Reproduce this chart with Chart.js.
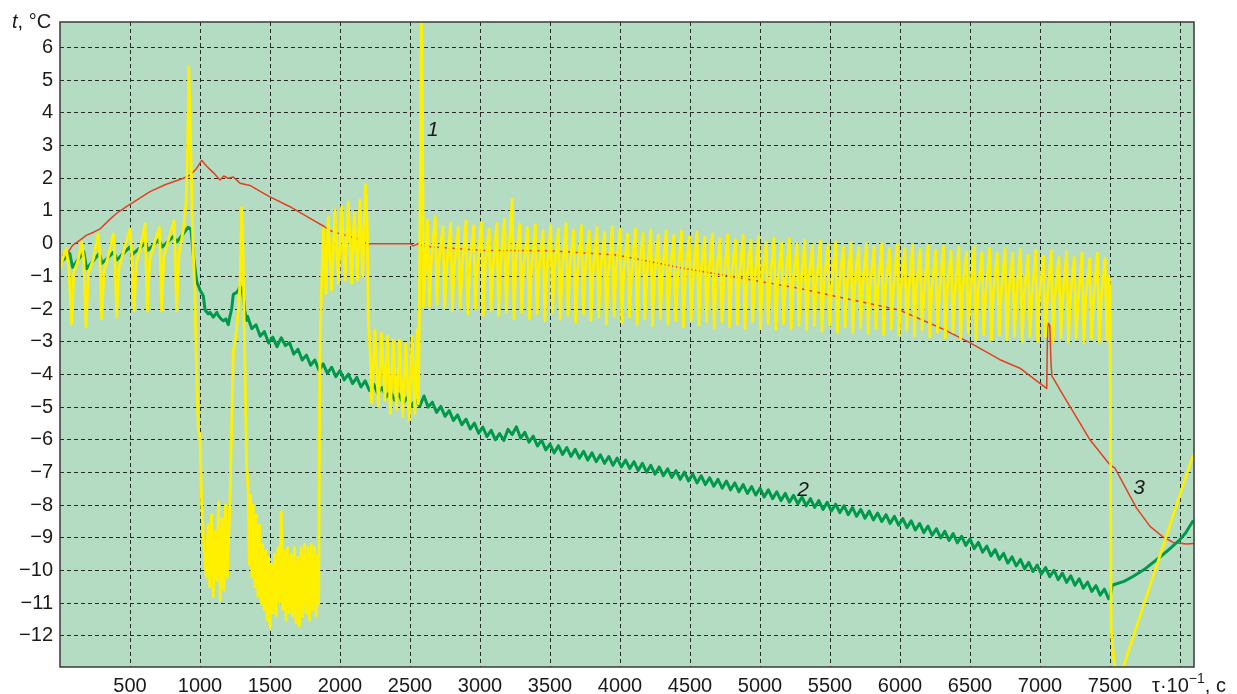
<!DOCTYPE html>
<html><head><meta charset="utf-8">
<script src="https://cdn.jsdelivr.net/npm/chart.js@4.4.1/dist/chart.umd.min.js"></script>
<style>html,body{margin:0;padding:0;background:#fff;}#wrap{width:1237px;height:694px;position:relative;}</style>
</head><body><div id="wrap"><canvas id="c" width="1237" height="694"></canvas></div>
<script>
// ---- tick values / labels ----
const xTicks = [500,1000,1500,2000,2500,3000,3500,4000,4500,5000,5500,6000,6500,7000,7500,8000];
const xTickLabels = ['500','1000','1500','2000','2500','3000','3500','4000','4500','5000','5500','6000','6500','7000','7500',''];
const yTicks = [-12,-11,-10,-9,-8,-7,-6,-5,-4,-3,-2,-1,0,1,2,3,4,5,6];
const yTickLabels = ['−12','−11','−10','−9','−8','−7','−6','−5','−4','−3','−2','−1','0','1','2','3','4','5','6'];
const seriesNames = ['1','2','3'];

// ---- curve 1 (yellow), flat [x, y, x, y, ...] ----
const yellowA = [0,-0.8, 20,-0.45, 45,-0.15, 62,-0.7, 83,-2.45, 98,-0.9, 130,-0.5, 155,0.05, 170,-0.5, 186,-2.55, 203,-0.9, 240,-0.45, 272,0.3, 285,-0.4, 298,-2.3, 314,-0.85, 350,-0.3, 380,0.3, 392,-0.4, 405,-2.25, 421,-0.75, 460,-0.15, 500,0.45, 512,-0.3, 529,-2.05, 545,-0.6, 580,0.0, 607,0.6, 613,-0.3, 624,-2.05, 640,-0.5, 680,0.1, 710,0.5, 716,-0.3, 726,-2.05, 742,-0.4, 780,0.2, 815,0.7, 822,-0.2, 833,-2.05, 850,-0.3, 880,0.4, 900,1.2, 912,3.0, 920,5.4, 928,4.0, 936,2.5, 944,0.8, 952,-0.3, 964,-1.5, 976,-4.0, 988,-5.7, 1000,-5.9, 1012,-8.0, 1030,-9.4];
const yellowB = [1045,-10.2, 1058,-8.6, 1070,-10.5, 1082,-8.3, 1095,-10.8, 1108,-8.8, 1120,-10.3, 1132,-7.9, 1145,-10.9, 1158,-8.4, 1170,-10.6, 1182,-8.0, 1195,-10.2, 1205,-9.0, 1214,-7.9, 1226,-5.5, 1238,-3.3, 1255,-2.9, 1274,-2.0, 1286,-1.2, 1298,1.1, 1305,0.3, 1312,-1.5, 1322,-4.0, 1333,-6.8, 1345,-7.6, 1352,-9.8, 1360,-7.7, 1370,-10.2, 1380,-8.0, 1392,-10.5, 1402,-8.3, 1414,-10.8, 1425,-8.6, 1436,-11.0, 1447,-9.2, 1458,-11.2, 1469,-9.4, 1480,-11.5, 1490,-9.6, 1500,-11.75, 1510,-9.8, 1522,-11.3, 1533,-9.5, 1545,-11.4, 1556,-9.3, 1568,-11.0, 1580,-8.2, 1592,-11.2, 1603,-9.4, 1615,-11.5, 1626,-9.3, 1638,-11.3, 1650,-9.5, 1662,-11.4, 1674,-9.3, 1686,-11.6, 1698,-9.6, 1710,-11.7, 1722,-9.3, 1734,-11.4, 1746,-9.2, 1758,-11.3, 1770,-9.3, 1782,-11.5, 1794,-9.2, 1806,-11.2, 1818,-9.3, 1830,-11.4, 1840,-9.5, 1848,-11.0];
const yellowC = [1855,-4.0, 1860,-2.6, 1869,-1.2, 1881,0.47, 1900,-1.52, 1916,0.82, 1940,-1.42, 1964,1.03, 1988,-1.21, 2012,1.13, 2036,-1.11, 2059,1.28, 2083,-1.21, 2102,0.93, 2124,-1.11, 2143,1.33, 2162,-1.01, 2183,1.8, 2195,0.5, 2202,-2.33, 2214,-3.15, 2226,-4.88, 2250,-2.64, 2274,-4.98, 2297,-2.74, 2321,-4.78, 2338,-2.84, 2360,-5.19, 2380,-2.95, 2404,-5.08, 2425,-2.95, 2448,-5.29, 2470,-3.05, 2494,-5.38, 2515,-2.84, 2535,-5.19, 2552,-2.64, 2560,-4.9, 2566,-2.64, 2575,3.0, 2582,7.2, 2590,3.0, 2597,-1.93, 2610,-0.7];
const yellowD = [2625,0.72, 2638,-1.92, 2652,-0.55, 2680,0.82, 2693,-1.85, 2707,-0.5, 2735,0.52, 2748,-1.95, 2762,-0.7, 2790,0.62, 2803,-2.05, 2817,-0.65, 2845,0.50, 2858,-1.98, 2872,-0.75, 2900,0.70, 2913,-2.15, 2927,-0.6, 2955,0.55, 2968,-2.0, 2982,-0.7, 3010,0.65, 3023,-2.2, 3037,-0.6, 3065,0.45, 3078,-2.05, 3092,-0.8, 3120,0.62, 3133,-2.2, 3147,-0.65, 3175,0.75, 3188,-2.1, 3202,-0.55, 3230,1.35, 3243,-2.3, 3257,-0.5, 3285,0.6, 3298,-2.1, 3312,-0.7, 3340,0.48, 3353,-2.3, 3367,-0.8, 3395,0.58, 3408,-2.15, 3422,-0.75, 3450,0.40, 3463,-2.35, 3477,-0.85, 3505,0.55, 3518,-2.1, 3532,-0.75, 3560,0.45, 3573,-2.3, 3587,-0.85, 3615,0.62, 3628,-2.2, 3642,-0.7, 3670,0.42, 3683,-2.4, 3697,-0.85, 3725,0.55, 3738,-2.15, 3752,-0.75, 3780,0.38, 3793,-2.35, 3807,-0.9, 3835,0.50, 3848,-2.25, 3862,-0.8, 3890,0.35, 3903,-2.45, 3917,-0.95, 3945,0.52, 3958,-2.2, 3972,-0.8, 4000,0.45, 4013,-2.4, 4027,-0.85, 4055,0.30, 4068,-2.25, 4082,-0.95, 4110,0.45, 4123,-2.45, 4137,-0.85, 4165,0.32, 4178,-2.3, 4192,-0.95, 4220,0.42, 4233,-2.5, 4247,-0.9, 4275,0.28, 4288,-2.3, 4302,-1.0, 4330,0.40, 4343,-2.45, 4357,-0.9, 4385,0.25, 4398,-2.35, 4412,-1.0, 4440,0.38, 4453,-2.55, 4467,-0.95, 4495,0.22, 4508,-2.35, 4522,-1.05, 4550,0.35, 4563,-2.5, 4577,-0.95, 4605,0.20, 4618,-2.4, 4632,-1.05, 4660,0.30, 4673,-2.6, 4687,-1.0, 4715,0.15, 4728,-2.4, 4742,-1.1, 4770,0.28, 4783,-2.55, 4797,-1.0, 4825,0.12, 4838,-2.45, 4852,-1.1, 4880,0.25, 4893,-2.6, 4907,-1.05, 4935,0.10, 4948,-2.4, 4962,-1.15, 4990,0.22, 5003,-2.6, 5017,-1.05, 5045,0.05, 5058,-2.45, 5072,-1.2, 5100,0.18, 5113,-2.62, 5127,-1.1, 5155,0.02, 5168,-2.45, 5182,-1.2, 5210,0.15, 5223,-2.6, 5237,-1.15, 5265,0.0, 5278,-2.5, 5292,-1.25, 5320,0.10, 5333,-2.65, 5347,-1.15, 5375,-0.05, 5388,-2.5, 5402,-1.3, 5430,0.08, 5443,-2.68, 5457,-1.2, 5485,-0.05, 5498,-2.5, 5512,-1.3, 5540,0.05, 5553,-2.7, 5567,-1.25, 5595,-0.10, 5608,-2.55, 5622,-1.35, 5650,0.02, 5663,-2.72, 5677,-1.25, 5705,-0.12, 5718,-2.58, 5732,-1.4, 5760,0.0, 5773,-2.75, 5787,-1.3, 5815,-0.10, 5828,-2.6, 5842,-1.4, 5870,0.0, 5883,-2.78, 5897,-1.3, 5925,-0.15, 5938,-2.6, 5952,-1.45, 5980,-0.02, 5993,-2.8, 6007,-1.35, 6035,-0.15, 6048,-2.65, 6062,-1.45, 6090,-0.05, 6103,-2.82, 6117,-1.35, 6145,-0.18, 6158,-2.65, 6172,-1.5, 6200,-0.05, 6213,-2.85, 6227,-1.4, 6255,-0.20, 6268,-2.7, 6282,-1.5, 6310,-0.08, 6323,-2.88, 6337,-1.4, 6365,-0.22, 6378,-2.7, 6392,-1.55, 6420,-0.10, 6433,-2.9, 6447,-1.45, 6475,-0.25, 6488,-2.75, 6502,-1.55, 6530,-0.10, 6543,-2.92, 6557,-1.45, 6585,-0.28, 6598,-2.78, 6612,-1.6, 6640,-0.15, 6653,-2.95, 6667,-1.5, 6695,-0.30, 6708,-2.8, 6722,-1.6, 6750,-0.15, 6763,-2.95, 6777,-1.5, 6805,-0.30, 6818,-2.82, 6832,-1.65, 6860,-0.18, 6873,-2.98, 6887,-1.55, 6915,-0.35, 6928,-2.85, 6942,-1.65, 6970,-0.20, 6983,-2.98, 6997,-1.55, 7025,-0.38, 7038,-2.85, 7052,-1.7, 7080,-0.22, 7093,-3.0, 7107,-1.6, 7135,-0.40, 7148,-2.88, 7162,-1.7, 7190,-0.25, 7203,-3.0, 7217,-1.6, 7245,-0.42, 7258,-2.9, 7272,-1.75, 7300,-0.28, 7313,-3.02, 7327,-1.65, 7355,-0.45, 7368,-2.9, 7382,-1.75, 7410,-0.30, 7423,-3.0, 7437,-1.65, 7465,-0.45, 7478,-2.95, 7492,-1.0];
const yellowE = [7500,-1.5, 7508,-11.8, 7540,-13.3, 7568,-13.3, 8090,-6.5];

// ---- curve 2 (green) ----
const greenA = [0,-0.6, 70,-0.3, 90,-0.72, 170,-0.25, 190,-0.77, 280,-0.3, 300,-0.6, 385,-0.25, 405,-0.5, 500,-0.1, 520,-0.32, 610,0.02, 630,-0.2, 705,0.12, 730,-0.1, 810,0.22, 835,0.05, 915,0.5, 935,0.45, 955,-0.45, 976,-1.15, 1000,-1.42, 1024,-1.6, 1036,-2.03, 1060,-2.15, 1071,-2.1, 1095,-2.25, 1120,-2.1, 1131,-2.2, 1150,-2.3, 1167,-2.36, 1185,-2.3, 1202,-2.48, 1215,-2.2, 1226,-2.0, 1238,-1.55, 1260,-1.5, 1274,-1.42, 1286,-1.32, 1300,-1.35, 1310,-1.65, 1320,-2.05, 1333,-2.35];
const greenB = [1340,-2.23, 1370,-2.60, 1400,-2.48, 1430,-2.83, 1460,-2.69, 1490,-3.04, 1520,-2.86, 1550,-3.15, 1580,-2.88, 1610,-3.12, 1640,-3.03, 1670,-3.38, 1700,-3.23, 1730,-3.56, 1760,-3.41, 1790,-3.72, 1820,-3.56, 1850,-3.87, 1880,-3.68, 1910,-3.97, 1940,-3.78, 1970,-4.07, 2000,-3.88, 2030,-4.17, 2060,-3.99, 2090,-4.28, 2120,-4.09, 2150,-4.38, 2180,-4.20, 2210,-4.49, 2240,-4.30, 2270,-4.59, 2300,-4.40, 2330,-4.69, 2360,-4.50, 2390,-4.79, 2420,-4.60, 2450,-4.89, 2480,-4.70, 2510,-4.98, 2540,-4.76, 2570,-4.97, 2600,-4.66, 2630,-5.00, 2660,-4.85, 2690,-5.16, 2720,-4.98, 2750,-5.28, 2780,-5.11, 2810,-5.41, 2840,-5.24, 2870,-5.54, 2900,-5.37, 2930,-5.67, 2960,-5.49, 2990,-5.80, 3020,-5.61, 3050,-5.90, 3080,-5.71, 3110,-6.00, 3140,-5.81, 3170,-6.02, 3200,-5.68, 3230,-5.84, 3260,-5.60, 3290,-5.95, 3320,-5.77, 3350,-6.07, 3380,-5.89, 3410,-6.19, 3440,-6.01, 3470,-6.31, 3500,-6.13, 3530,-6.40, 3560,-6.18, 3590,-6.45, 3620,-6.24, 3650,-6.51, 3680,-6.29, 3710,-6.56, 3740,-6.35, 3770,-6.62, 3800,-6.40, 3830,-6.67, 3860,-6.46, 3890,-6.72, 3920,-6.51, 3950,-6.78, 3980,-6.56, 4010,-6.83, 4040,-6.62, 4070,-6.88, 4100,-6.67, 4130,-6.94, 4160,-6.72, 4190,-6.99, 4220,-6.78, 4250,-7.05, 4280,-6.83, 4310,-7.10, 4340,-6.89, 4370,-7.15, 4400,-6.94, 4430,-7.21, 4460,-6.99, 4490,-7.26, 4520,-7.05, 4550,-7.32, 4580,-7.10, 4610,-7.37, 4640,-7.16, 4670,-7.42, 4700,-7.21, 4730,-7.48, 4760,-7.26, 4790,-7.53, 4820,-7.32, 4850,-7.59, 4880,-7.37, 4910,-7.64, 4940,-7.43, 4970,-7.69, 5000,-7.48, 5030,-7.75, 5060,-7.53, 5090,-7.80, 5120,-7.59, 5150,-7.86, 5180,-7.64, 5210,-7.91, 5240,-7.70, 5270,-7.96, 5300,-7.75, 5330,-8.02, 5360,-7.80, 5390,-8.07, 5420,-7.86, 5450,-8.13, 5480,-7.91, 5510,-8.18, 5540,-7.97, 5570,-8.23, 5600,-8.02, 5630,-8.29, 5660,-8.07, 5690,-8.34, 5720,-8.13, 5750,-8.40, 5780,-8.18, 5810,-8.45, 5840,-8.24, 5870,-8.50, 5900,-8.29, 5930,-8.56, 5960,-8.34, 5990,-8.61, 6020,-8.41, 6050,-8.69, 6080,-8.48, 6110,-8.76, 6140,-8.56, 6170,-8.84, 6200,-8.64, 6230,-8.92, 6260,-8.72, 6290,-9.00, 6320,-8.80, 6350,-9.08, 6380,-8.87, 6410,-9.15, 6440,-8.95, 6470,-9.23, 6500,-9.03, 6530,-9.33, 6560,-9.14, 6590,-9.44, 6620,-9.25, 6650,-9.55, 6680,-9.36, 6710,-9.66, 6740,-9.47, 6770,-9.77, 6800,-9.58, 6830,-9.86, 6860,-9.66, 6890,-9.95, 6920,-9.75, 6950,-10.03, 6980,-9.83, 7010,-10.11, 7040,-9.91, 7070,-10.19, 7100,-9.99, 7130,-10.28, 7160,-10.08, 7190,-10.36, 7220,-10.16, 7250,-10.45, 7280,-10.25, 7310,-10.54, 7340,-10.35, 7370,-10.64, 7400,-10.46, 7430,-10.75, 7460,-10.57, 7490,-10.86];
const greenC = [7500,-10.84, 7515,-10.45, 7536,-10.42, 7600,-10.33, 7664,-10.18, 7750,-9.95, 7833,-9.67, 7910,-9.4, 7988,-9.1, 8040,-8.85, 8090,-8.5];

// ---- curve 3 (red) ----
const redPts = [20,-0.35, 60,-0.25, 90,-0.05, 140,0.1, 190,0.26, 240,0.35, 286,0.45, 350,0.72, 405,0.93, 480,1.15, 548,1.33, 643,1.59, 750,1.8, 881,2.0, 930,2.1, 976,2.3, 1012,2.55, 1048,2.37, 1100,2.15, 1143,1.95, 1170,2.07, 1200,2.0, 1238,2.04, 1286,1.85, 1357,1.78, 1430,1.6, 1500,1.43, 1643,1.13, 1786,0.77, 1881,0.54, 1929,0.4, 2000,0.3, 2119,0.16, 2190,0.0, 2400,0.0, 2500,0.0, 2524,-0.07, 2560,0.0, 2600,-0.08, 3000,-0.2, 3500,-0.22, 3976,-0.35, 4452,-0.75, 4810,-1.01, 5286,-1.37, 5495,-1.57, 5995,-2.03, 6300,-2.6, 6495,-3.02, 6714,-3.55, 6857,-3.81, 6976,-4.2, 7048,-4.43, 7054,-2.6, 7060,-2.44, 7070,-2.5, 7078,-3.6, 7085,-4.05, 7100,-4.15, 7143,-4.47, 7214,-4.98, 7357,-6.0, 7500,-6.77, 7536,-6.87, 7619,-7.53, 7690,-8.09, 7786,-8.65, 7881,-8.98, 7952,-9.14, 8048,-9.19, 8095,-9.17];

// curve-label anchor points (data coordinates)
const labelAnchors = [[2664,3.47],[5307,-7.53],[7707,-7.47]];

function pairs(a){const o=[];for(let i=0;i<a.length;i+=2)o.push({x:a[i],y:a[i+1]});return o;}

const FONT = '"Liberation Sans", Arial, Helvetica, sans-serif';

const deco = {
  id:'deco',
  beforeDraw(chart){
    const {ctx, chartArea:a} = chart;
    ctx.save();
    ctx.fillStyle = '#b4dcc3';
    ctx.fillRect(a.left, a.top, a.right-a.left, a.bottom-a.top);
    ctx.restore();
  },
  afterDraw(chart){
    const {ctx, chartArea:a, scales} = chart;
    ctx.save();
    ctx.strokeStyle = '#3a3a3a';
    ctx.lineWidth = 1.5;
    ctx.strokeRect(a.left, a.top, a.right-a.left, a.bottom-a.top);
    ctx.fillStyle = '#1a1a1a';
    ctx.textBaseline = 'alphabetic';
    ctx.textAlign = 'left';
    ctx.font = 'italic 20px ' + FONT;
    ctx.fillText('t', 12, a.top + 6);
    let w = ctx.measureText('t').width;
    ctx.font = '20px ' + FONT;
    ctx.fillText(', °C', 12 + w, a.top + 6);
    let x = a.right - 42, base = a.bottom + 25;
    ctx.font = '20px ' + FONT;
    ctx.fillText('τ·10', x, base);
    x += ctx.measureText('τ·10').width;
    ctx.font = '14px ' + FONT;
    ctx.fillText('−1', x, base - 9);
    x += ctx.measureText('−1').width;
    ctx.font = '20px ' + FONT;
    ctx.fillText(', c', x, base);
    ctx.font = 'italic 21px ' + FONT;
    ctx.textAlign = 'center';
    ctx.textBaseline = 'middle';
    labelAnchors.forEach((p, i) => {
      ctx.fillText(seriesNames[i], scales.x.getPixelForValue(p[0]), scales.y.getPixelForValue(p[1]));
    });
    ctx.restore();
  }
};

new Chart(document.getElementById('c'), {
  type: 'line',
  data: {
    datasets: [
      { label: seriesNames[0], data: pairs([].concat(yellowA, yellowB, yellowC, yellowD, yellowE)), borderColor: '#fff000', borderWidth: 2.8, order: 1 },
      { label: seriesNames[1], data: pairs([].concat(greenA, greenB, greenC)), borderColor: '#00994c', borderWidth: 3, order: 2 },
      { label: seriesNames[2], data: pairs(redPts), borderColor: '#e2401e', borderWidth: 1.5, order: 3 }
    ]
  },
  options: {
    responsive: false,
    animation: false,
    devicePixelRatio: 1,
    events: [],
    parsing: false,
    elements: { point: { radius: 0 }, line: { tension: 0, borderJoinStyle: 'round', borderCapStyle: 'round' } },
    datasets: { line: { clip: 0 } },
    layout: { padding: { left: 0, right: 43, top: 22, bottom: 0 } },
    plugins: { legend: { display: false }, tooltip: { enabled: false } },
    scales: {
      x: {
        type: 'linear', min: 0, max: 8100, z: 1,
        afterBuildTicks: s => { s.ticks = xTicks.map(v => ({ value: v })); },
        afterFit: s => { s.height = 27; },
        grid: { color: '#2a2a2a', lineWidth: 1, drawTicks: false },
        border: { display: false, dash: [4, 3] },
        ticks: { autoSkip: false, maxRotation: 0, padding: 7, color: '#1a1a1a', font: { family: FONT, size: 20 },
                 callback: (v, i) => xTickLabels[i] }
      },
      y: {
        type: 'linear', min: -12.95, max: 6.78, z: 1,
        afterBuildTicks: s => { s.ticks = yTicks.map(v => ({ value: v })); },
        afterFit: s => { s.width = 60; },
        grid: { color: '#2a2a2a', lineWidth: 1, drawTicks: false },
        border: { display: false, dash: [4, 3] },
        ticks: { autoSkip: false, padding: 7, color: '#1a1a1a', font: { family: FONT, size: 20 },
                 callback: (v, i) => yTickLabels[i] }
      }
    }
  },
  plugins: [deco]
});
</script>
</body></html>
